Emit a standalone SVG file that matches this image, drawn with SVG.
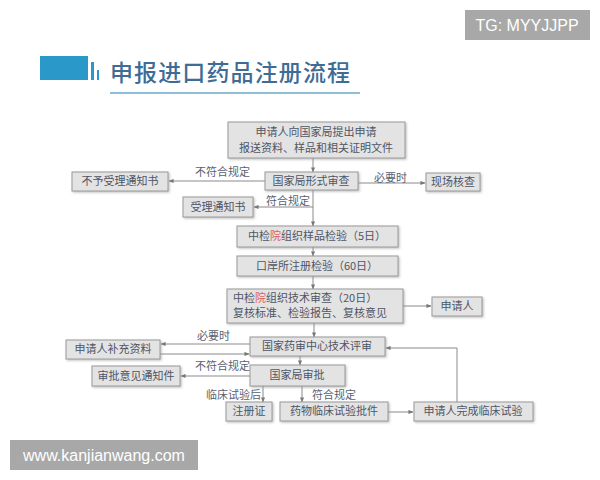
<svg xmlns="http://www.w3.org/2000/svg" width="600" height="480" viewBox="0 0 600 480">
<defs>
<marker id="ah" viewBox="0 0 6 6" refX="5.5" refY="3" markerWidth="5" markerHeight="5" orient="auto" markerUnits="userSpaceOnUse">
<path d="M0,0.5 L6,3 L0,5.5 z" fill="#777"/>
</marker>
<filter id="sh" x="-5%" y="-10%" width="115%" height="130%">
<feDropShadow dx="1.2" dy="1.2" stdDeviation="0.8" flood-color="#999" flood-opacity="0.6"/>
</filter>
</defs>
<style>
.bx{fill:#e3e3e3;stroke:#9a9a9a;stroke-width:1;filter:url(#sh)}
.t{font-family:"Noto Sans CJK SC","Liberation Serif",serif;font-size:11px;fill:#4e5566;text-anchor:middle}
.tl{font-family:"Noto Sans CJK SC","Liberation Serif",serif;font-size:11px;fill:#4e5566;text-anchor:start}
.lb{font-family:"Noto Sans CJK SC","Liberation Serif",serif;font-size:11px;fill:#5a6070}
.ln{stroke:#8a8a8a;stroke-width:1;fill:none}
.ar{stroke:#8a8a8a;stroke-width:1;fill:none;marker-end:url(#ah)}
.red{fill:#e06060}
</style>
<rect width="600" height="480" fill="#ffffff"/>
<g id="title">
<rect x="40" y="56" width="48" height="24" fill="#2a98c9"/>
<rect x="91" y="62" width="3" height="18" fill="#2a98c9"/>
<rect x="97" y="70" width="2" height="10" fill="#2a98c9"/>
<text x="110" y="81" font-family="Noto Sans CJK SC, sans-serif" font-size="23" fill="#3e6c94" font-weight="500" textLength="240">申报进口药品注册流程</text>
<line x1="110" y1="93" x2="360" y2="93" stroke="#6aaac8" stroke-width="1.5"/>
</g>
<g id="wm1"><rect x="465" y="10" width="125" height="30" fill="#a8a8a8"/><text x="527" y="31" font-family="Liberation Sans, sans-serif" font-size="16" fill="#ffffff" text-anchor="middle">TG: MYYJJPP</text></g>
<g id="wm2"><rect x="10" y="440" width="188" height="30" fill="#a8a8a8"/><text x="104" y="461" font-family="Liberation Sans, sans-serif" font-size="16" fill="#ffffff" text-anchor="middle">www.kanjianwang.com</text></g>
<g id="connectors">
<line class="ar" x1="313" y1="158" x2="313" y2="172"/>
<line class="ar" x1="265" y1="181" x2="169" y2="181"/>
<line class="ar" x1="358" y1="183" x2="425" y2="183"/>
<line class="ar" x1="313" y1="190" x2="313" y2="226"/>
<line class="ar" x1="313" y1="207" x2="254" y2="207"/>
<line class="ar" x1="313" y1="247" x2="313" y2="256"/>
<line class="ar" x1="313" y1="276" x2="313" y2="289"/>
<line class="ar" x1="403" y1="306" x2="431" y2="306"/>
<line class="ar" x1="314" y1="323" x2="314" y2="337"/>
<line class="ar" x1="250" y1="344" x2="161" y2="344"/>
<line class="ar" x1="160" y1="354" x2="249" y2="354"/>
<line class="ar" x1="300" y1="356" x2="300" y2="365"/>
<line class="ar" x1="250" y1="376" x2="181" y2="376"/>
<line class="ar" x1="263" y1="386" x2="263" y2="402"/>
<line class="ar" x1="302" y1="386" x2="302" y2="402"/>
<line class="ar" x1="388" y1="412" x2="413" y2="412"/>
<polyline class="ar" points="457,402 457,348 386,348"/>
</g>
<g id="labels">
<text class="lb" x="195" y="176">不符合规定</text>
<text class="lb" x="374" y="182">必要时</text>
<text class="lb" x="266" y="205">符合规定</text>
<text class="lb" x="197" y="340">必要时</text>
<text class="lb" x="195" y="370">不符合规定</text>
<text class="lb" x="206" y="399">临床试验后</text>
<text class="lb" x="312" y="399">符合规定</text>
</g>
<g id="n1"><rect class="bx" x="228" y="122" width="177" height="36"/><text class="t" x="316" y="136">申请人向国家局提出申请</text><text class="t" x="316" y="152">报送资料、样品和相关证明文件</text></g>
<g id="n2"><rect class="bx" x="265" y="172" width="93" height="18"/><text class="t" x="311" y="185">国家局形式审查</text></g>
<g id="n3"><rect class="bx" x="72" y="172" width="96" height="19"/><text class="t" x="120" y="185">不予受理通知书</text></g>
<g id="n4"><rect class="bx" x="426" y="173" width="54" height="18"/><text class="t" x="453" y="186">现场核查</text></g>
<g id="n5"><rect class="bx" x="183" y="197" width="70" height="20"/><text class="t" x="218" y="211">受理通知书</text></g>
<g id="n6"><rect class="bx" x="237" y="226" width="161" height="21"/><text class="t" x="317" y="240">中检<tspan class="red">院</tspan>组织样品检验（5日）</text></g>
<g id="n7"><rect class="bx" x="237" y="256" width="161" height="20"/><text class="t" x="317" y="270">口岸所注册检验（60日）</text></g>
<g id="n8"><rect class="bx" x="227" y="289" width="176" height="34"/><text class="tl" x="233" y="302">中检<tspan class="red">院</tspan>组织技术审查（20日）</text><text class="tl" x="233" y="317">复核标准、检验报告、复核意见</text></g>
<g id="n9"><rect class="bx" x="432" y="297" width="50" height="19"/><text class="t" x="457" y="310">申请人</text></g>
<g id="n10"><rect class="bx" x="250" y="337" width="135" height="19"/><text class="t" x="317" y="350">国家药审中心技术评审</text></g>
<g id="n11"><rect class="bx" x="66" y="340" width="94" height="19"/><text class="t" x="113" y="353">申请人补充资料</text></g>
<g id="n12"><rect class="bx" x="250" y="365" width="95" height="21"/><text class="t" x="297" y="379">国家局审批</text></g>
<g id="n13"><rect class="bx" x="92" y="366" width="88" height="20"/><text class="t" x="136" y="380">审批意见通知件</text></g>
<g id="n14"><rect class="bx" x="226" y="402" width="46" height="19"/><text class="t" x="249" y="415">注册证</text></g>
<g id="n15"><rect class="bx" x="280" y="402" width="108" height="19"/><text class="t" x="334" y="415">药物临床试验批件</text></g>
<g id="n16"><rect class="bx" x="414" y="402" width="119" height="19"/><text class="t" x="473" y="415">申请人完成临床试验</text></g>
</svg>
